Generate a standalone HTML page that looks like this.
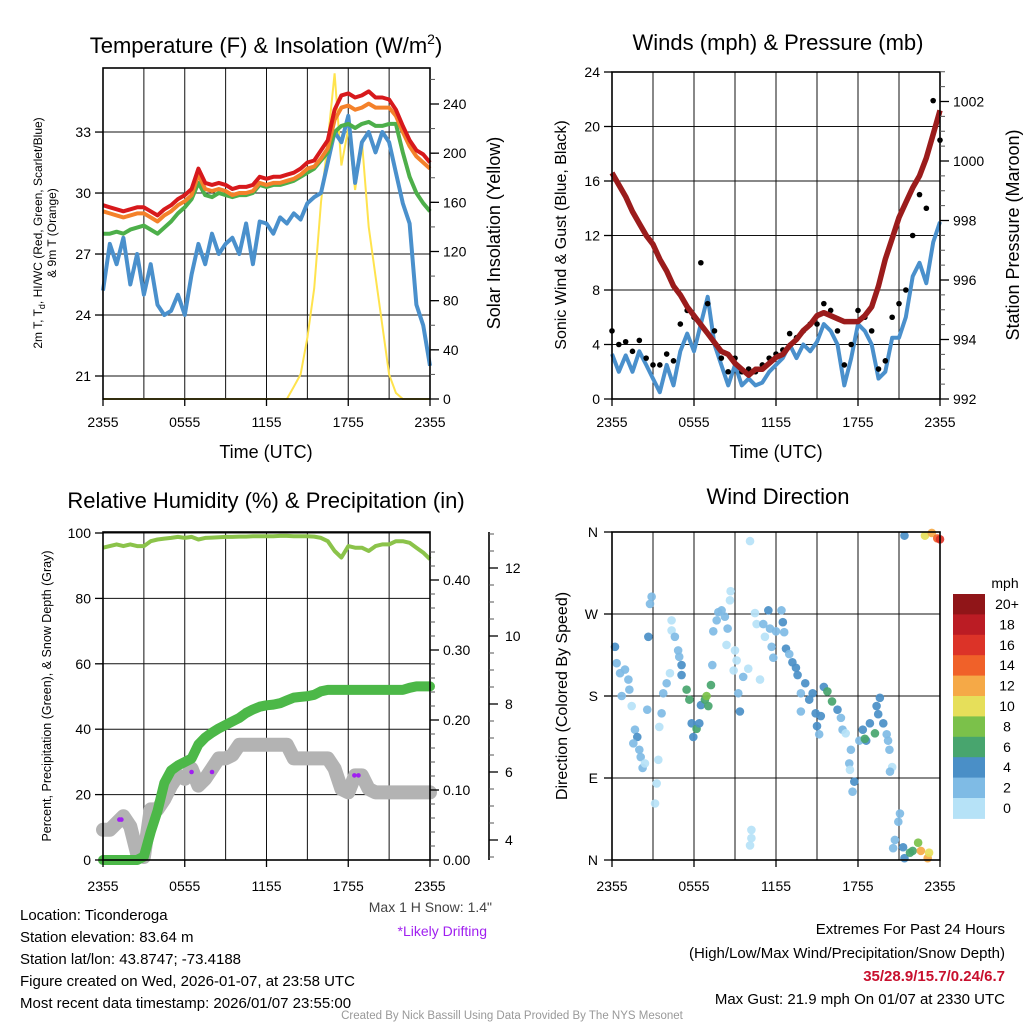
<!DOCTYPE html>
<html><head><meta charset="utf-8"><title>Ticonderoga Mesonet Meteogram</title>
<style>
html,body{margin:0;padding:0;background:#fff;}
body{width:1024px;height:1024px;overflow:hidden;font-family:"Liberation Sans",Arial,sans-serif;}
svg text{font-family:"Liberation Sans",Arial,sans-serif;}
</style></head>
<body>
<svg id="chart" xmlns="http://www.w3.org/2000/svg" width="1024" height="1024" viewBox="0 0 1024 1024">
<rect width="1024" height="1024" fill="#fff"/>
<g id="g1"></g>
<g id="g2"></g>
<g id="g3"></g>
<g id="g4"></g>

<text x="266" y="53" font-size="22" text-anchor="middle">Temperature (F) &amp; Insolation (W/m<tspan dy="-9" font-size="14">2</tspan><tspan dy="9">)</tspan></text>
<text x="778" y="50" font-size="22" text-anchor="middle">Winds (mph) &amp; Pressure (mb)</text>
<text x="266" y="508" font-size="22" text-anchor="middle">Relative Humidity (%) &amp; Precipitation (in)</text>
<text x="778" y="504" font-size="22" text-anchor="middle">Wind Direction</text>

<text x="266" y="458" font-size="18" text-anchor="middle">Time (UTC)</text>
<text x="776" y="458" font-size="18" text-anchor="middle">Time (UTC)</text>

<text transform="translate(42,233) rotate(-90)" font-size="12" text-anchor="middle">2m T, T<tspan dy="3" font-size="9">d</tspan><tspan dy="-3">, HI/WC (Red, Green, Scarlet/Blue)</tspan></text>
<text transform="translate(56,233) rotate(-90)" font-size="12" text-anchor="middle">&amp; 9m T (Orange)</text>
<text transform="translate(500,233) rotate(-90)" font-size="18" text-anchor="middle">Solar Insolation (Yellow)</text>
<text transform="translate(566,235) rotate(-90)" font-size="16" text-anchor="middle">Sonic Wind &amp; Gust (Blue, Black)</text>
<text transform="translate(1019,235) rotate(-90)" font-size="18" text-anchor="middle">Station Pressure (Maroon)</text>
<text transform="translate(51,696) rotate(-90)" font-size="12.5" text-anchor="middle">Percent, Precipitation (Green), &amp; Snow Depth (Gray)</text>
<text transform="translate(567,696) rotate(-90)" font-size="16" text-anchor="middle">Direction (Colored By Speed)</text>

<text x="1005" y="588" font-size="14" text-anchor="middle">mph</text>

<text x="492" y="912" font-size="14" fill="#444" text-anchor="end">Max 1 H Snow: 1.4"</text>
<text x="487" y="936" font-size="14" fill="#a020f0" text-anchor="end">*Likely Drifting</text>

<g font-size="15">
<text x="20" y="920">Location: Ticonderoga</text>
<text x="20" y="942">Station elevation: 83.64 m</text>
<text x="20" y="964">Station lat/lon: 43.8747; -73.4188</text>
<text x="20" y="986">Figure created on Wed, 2026-01-07, at 23:58 UTC</text>
<text x="20" y="1008">Most recent data timestamp: 2026/01/07 23:55:00</text>
</g>
<g font-size="15" text-anchor="end">
<text x="1005" y="934">Extremes For Past 24 Hours</text>
<text x="1005" y="958">(High/Low/Max Wind/Precipitation/Snow Depth)</text>
<text x="1005" y="981" font-weight="bold" fill="#c8102e">35/28.9/15.7/0.24/6.7</text>
<text x="1005" y="1004">Max Gust: 21.9 mph On 01/07 at 2330 UTC</text>
</g>
<text x="512" y="1019" font-size="11.5" fill="#999" text-anchor="middle">Created By Nick Bassill Using Data Provided By The NYS Mesonet</text>
</svg>
<script>
// ---- data (half-hourly, 0..24 h from 2355 UTC) ----
const timeTicks = ["2355","0555","1155","1755","2355"];
const tempRed = [29.4,29.3,29.2,29.1,29.2,29.3,29.3,29.1,28.9,29.2,29.4,29.7,29.9,30.2,31.2,30.5,30.4,30.5,30.4,30.2,30.3,30.3,30.4,30.8,30.7,30.8,30.8,30.9,31.0,31.2,31.5,31.6,32.1,32.6,34.1,34.8,34.9,34.7,34.8,35.0,34.7,34.7,34.6,34.1,33.3,32.6,32.1,31.9,31.5];
const tempOrange = [29.1,29.0,28.9,28.8,28.9,29.0,29.0,28.8,28.6,28.9,29.1,29.4,29.6,29.9,30.9,30.2,30.1,30.2,30.1,29.9,30.0,30.0,30.1,30.5,30.4,30.5,30.5,30.6,30.7,30.9,31.2,31.3,31.7,32.2,33.6,34.2,34.3,34.1,34.2,34.4,34.2,34.2,34.2,33.8,33.0,32.3,31.8,31.5,31.2];
const tempGreen = [28.0,28.0,28.1,28.0,28.2,28.3,28.4,28.2,28.0,28.3,28.6,29.0,29.3,29.7,30.5,29.9,29.8,30.0,29.9,29.8,29.9,29.9,30.0,30.4,30.3,30.4,30.4,30.5,30.6,30.8,31.0,31.2,31.6,32.0,33.0,33.3,33.4,33.2,33.4,33.5,33.3,33.3,33.4,33.4,32.0,30.8,30.0,29.5,29.1];
const tempBlue = [25.2,27.5,26.5,27.8,25.5,27.0,25.0,26.5,24.5,24.0,24.2,25.0,24.0,26.0,27.5,26.5,28.0,27.0,27.5,27.8,27.0,28.5,26.5,28.6,28.5,28.0,28.8,28.5,29.0,28.7,29.5,29.8,30.0,31.5,33.0,32.5,33.8,30.5,32.5,33.0,32.0,33.0,32.5,31.0,29.5,28.5,24.5,23.5,21.5];
const insolation = [0,0,0,0,0,0,0,0,0,0,0,0,0,0,0,0,0,0,0,0,0,0,0,0,0,0,0,0,10,20,50,90,160,210,265,190,220,170,210,140,100,60,20,5,0,0,0,0,0];
const tempTicks = [21,24,27,30,33];
const insolTicks = [0,40,80,120,160,200,240];

const windSpeed = [3.3,2.0,3.2,2.0,3.5,2.5,1.5,0.5,2.5,1.0,3.5,4.8,3.5,5.5,7.5,4.0,2.5,1.0,2.5,1.0,1.5,1.0,1.2,2.0,2.5,3.0,4.0,3.0,4.0,3.5,4.2,5.5,5.0,4.0,1.0,3.0,5.5,5.0,4.0,1.5,2.0,4.5,4.5,6.0,9.0,10.0,8.5,11.5,13.0];
const windGust = [5,4,4.2,3.5,4.3,3.0,2.5,2.5,3.3,2.8,5.5,6.5,6,10,7,5,3,2,3,2,2.2,2,2.5,3,3.3,3.6,4.8,4.5,5.0,5.5,5.5,7,6.5,5,2.5,4,6.5,6,5,2.2,2.8,6,7,8,12,15,14,21.9,19];
const pressure = [999.6,999.2,998.8,998.3,997.9,997.5,997.2,996.7,996.3,995.8,995.5,995.1,994.8,994.5,994.2,993.9,993.6,993.5,993.2,993.0,992.8,993.0,993.0,993.2,993.4,993.5,993.8,994.0,994.3,994.5,994.8,994.9,994.8,994.7,994.6,994.6,994.6,994.8,995.1,995.8,996.7,997.4,998.1,998.6,999.1,999.5,1000.1,1000.9,1001.7];
const windTicks = [0,4,8,12,16,20,24];
const pressTicks = [992,994,996,998,1000,1002];

const rh = [95.5,96,96.5,96,96.5,96,96,97.5,98,98.3,98.5,98.8,98.5,98.8,98,98.5,98.6,98.7,98.8,98.8,98.9,98.9,99,99,99,99,99.1,99.1,99,99,99,98.9,98.5,97.5,94.5,92.5,96,95.5,95.5,94.5,96,96.5,96.5,97.5,97.5,97,95.5,94,92];
const precip = [0,0,0,0,0,0,0.005,0.04,0.07,0.11,0.128,0.135,0.14,0.145,0.165,0.175,0.182,0.188,0.193,0.198,0.203,0.21,0.215,0.219,0.221,0.222,0.224,0.228,0.232,0.233,0.234,0.236,0.241,0.243,0.243,0.243,0.243,0.243,0.243,0.243,0.243,0.243,0.243,0.243,0.243,0.246,0.248,0.248,0.248];
const snowDepth = [4.3,4.3,4.5,4.7,4.4,3.6,3.5,4.9,4.9,5.2,5.6,5.9,5.8,6.1,5.6,5.8,6.1,6.4,6.4,6.5,6.8,6.8,6.8,6.8,6.8,6.8,6.8,6.8,6.4,6.4,6.4,6.4,6.4,6.4,6.1,5.5,5.4,5.9,5.9,5.5,5.4,5.4,5.4,5.4,5.4,5.4,5.4,5.4,5.4];
const driftHours = [1.2,1.35,6.5,8.0,18.45,18.75];
const driftSnow = [4.6,4.6,6.0,6.0,5.9,5.9];
const rhTicks = [0,20,40,60,80,100];
const precipTicks = ["0.00","0.10","0.20","0.30","0.40"];
const snowTicks = [4,6,8,10,12];

const dirHours = [0.22,0.34,0.59,0.95,1.2,1.27,0.71,1.44,1.68,1.85,1.56,2.0,2.1,2.24,2.41,2.58,2.66,2.78,2.9,3.27,3.15,3.39,3.46,3.63,3.75,4.0,4.24,4.36,4.36,4.6,4.84,4.92,5.09,5.09,5.46,5.66,5.83,5.95,6.19,6.39,6.51,6.8,6.92,7.05,7.24,7.34,7.41,7.66,7.78,8.02,8.26,8.46,8.38,8.63,8.68,9.0,9.12,8.9,9.24,9.36,9.6,9.97,10.1,10.2,10.2,10.1,10.46,10.58,10.83,11.07,11.19,11.44,11.56,11.68,11.8,12.0,12.4,12.5,12.6,12.73,12.97,13.2,13.46,13.58,13.82,13.82,14.14,14.43,14.68,14.9,15.0,15.16,15.28,15.5,15.76,16.1,16.5,16.75,16.87,17.1,17.48,17.36,17.41,17.73,17.6,18.1,18.35,18.6,18.5,18.87,19.24,19.36,19.48,19.6,19.85,20.1,20.2,20.3,20.5,20.34,21.07,20.95,20.7,20.57,21.3,21.4,21.8,22.0,22.4,22.6,23.1,23.2,21.4,22.9,23.4,23.8,24.0];
const dirDeg = [234,216,205,209,198,187,180,169,143,135,128,121,113,101,106,165,245,281,289,84,62,110,146,161,183,194,205,263,252,245,230,223,214,203,187,176,150,135,144,150,170,176,180,169,192,214,251,263,272,274,267,254,236,285,295,230,219,208,183,163,201,210,350,33,24,16,271,259,198,259,245,274,254,234,222,251,274,261,250,232,226,217,211,203,183,163,194,176,183,161,147,138,158,190,185,174,165,156,143,139,121,106,99,86,75,131,143,131,133,150,139,169,160,178,150,138,131,121,102,97,51,42,22,13,14,2,8,10,19,10,2,8,356,356,359,353,352];
const dirSpeed = [5,3,3,3,3,3,3,1,3,5,3,3,3,3,1,3,5,3,3,1,1,1,1,3,3,3,1,1,1,3,3,3,5,5,7,7,5,5,7,5,5,7,9,7,7,3,3,3,3,3,3,3,1,1,1,1,1,1,3,5,3,1,1,1,1,1,1,1,1,3,1,5,3,3,3,3,3,5,3,5,3,5,5,5,3,3,5,5,5,5,5,3,5,5,7,7,5,3,3,1,3,3,1,5,3,3,5,5,7,5,7,5,5,5,5,3,3,3,1,3,3,3,3,3,5,5,7,7,9,13,13,11,5,11,13,15,17];
const speedLabels = ["20+","18","16","14","12","10","8","6","4","2","0"];
const speedColors = ["#901518","#bb1c24","#dc3328","#f06129","#f5a947","#e6df5a","#7bc14a","#48a56e","#4a8fc7","#7fbbe5","#b6e2f7"];

// ---- helpers ----
const NS = "http://www.w3.org/2000/svg";
function mk(parent, tag, attrs){ const e=document.createElementNS(NS,tag); for(const k in attrs) e.setAttribute(k,attrs[k]); parent.appendChild(e); return e; }
function xScale(x0,x1){ return h => x0 + h/24*(x1-x0); }
function idxHour(i){ return i*0.5; }
function linePath(vals, xs, ys){ let d=""; vals.forEach((v,i)=>{ d += (i?"L":"M") + xs(idxHour(i)).toFixed(1) + "," + ys(v).toFixed(1); }); return d; }
function grid(g, x0,x1,y0,y1, yList){
  for(let h=3; h<24; h+=3){ const x=x0+h/24*(x1-x0);
    const l=mk(g,"line",{x1:x,x2:x,y1:y0,y2:y1,stroke:"#111","stroke-width":1});
    
     }
  yList.forEach(y=>{ const l=mk(g,"line",{x1:x0,x2:x1,y1:y,y2:y,stroke:"#111","stroke-width":1});
    
     });
}
function frame(g,x0,x1,y0,y1){ const r=mk(g,"rect",{x:x0,y:y0,width:x1-x0,height:y1-y0,fill:"none",stroke:"#000","stroke-width":1.6});
  
   }
function xTicks(g,x0,x1,y1,ly){
  timeTicks.forEach((t,i)=>{ const x=x0+i*6/24*(x1-x0);
    const tk=mk(g,"line",{x1:x,x2:x,y1:y1,y2:y1+7,stroke:"#000","stroke-width":1.3});
    
    
    const tx=mk(g,"text",{x:x,y:ly,"font-size":14,"text-anchor":"middle"}); tx.textContent=t;
    
     });
}
function leftTicks(g,x0,vals,ys,fmt){
  vals.forEach(v=>{ const y=ys(v);
    const tk=mk(g,"line",{x1:x0-8,x2:x0,y1:y,y2:y,stroke:"#000","stroke-width":1.3});
    
    
    const tx=mk(g,"text",{x:x0-12,y:y+5,"font-size":14,"text-anchor":"end"}); tx.textContent=fmt?fmt(v):v;
    
     });
}
function rightTicks(g,x1,vals,ys,fmt,minorVals){
  (minorVals||[]).forEach(v=>{ const y=ys(v);
    const tk=mk(g,"line",{x1:x1,x2:x1+5,y1:y,y2:y,stroke:"#555","stroke-width":1});
    
     });
  vals.forEach(v=>{ const y=ys(v);
    const tk=mk(g,"line",{x1:x1,x2:x1+9,y1:y,y2:y,stroke:"#000","stroke-width":1.3});
    
    
    const tx=mk(g,"text",{x:x1+13,y:y+5,"font-size":14}); tx.textContent=fmt?fmt(v):v;
    
     });
}
function range(a,b,s){ const r=[]; for(let v=a; v<=b+1e-9; v+=s) r.push(+v.toFixed(4)); return r; }

// ---- Panel 1 ----
(function(){
  const g=document.getElementById("g1");
  const x0=103,x1=430,y0=68,y1=399;
  const xs=xScale(x0,x1);
  const yT=t=>376-(t-21)*20.33;
  const yI=v=>399-v*295/240;
  grid(g,x0,x1,y0,y1,tempTicks.map(yT));
  const pI=mk(g,"path",{d:linePath(insolation,xs,yI),fill:"none",stroke:"#ffe34d","stroke-width":2});
  
  
  const series=[[tempBlue,"#4a90cc","temp-blue-line"],[tempGreen,"#4daf4a","temp-green-line"],[tempOrange,"#f4812a","temp-orange-line"],[tempRed,"#d7191c","temp-red-line"]];
  series.forEach(s=>{ const p=mk(g,"path",{d:linePath(s[0],xs,yT),fill:"none",stroke:s[1],"stroke-width":4,"stroke-linejoin":"round"});
    
     });
  frame(g,x0,x1,y0,y1);
  leftTicks(g,x0,tempTicks,yT);
  rightTicks(g,x1,insolTicks,yI,null,range(20,260,20));
  xTicks(g,x0,x1,y1,427);
})();

// ---- Panel 2 ----
(function(){
  const g=document.getElementById("g2");
  const x0=612,x1=940,y0=72,y1=399;
  const xs=xScale(x0,x1);
  const yW=w=>399-w*13.625;
  const yP=p=>399-(p-992)*29.75;
  grid(g,x0,x1,y0,y1,windTicks.map(yW));
  const pw=mk(g,"path",{d:linePath(windSpeed,xs,yW),fill:"none",stroke:"#4a90cc","stroke-width":4,"stroke-linejoin":"round"});
  
  
  windGust.forEach((v,i)=>{ const c=mk(g,"circle",{cx:xs(idxHour(i)),cy:yW(v),r:2.8,fill:"#000"});
    
     });
  const pp=mk(g,"path",{d:linePath(pressure,xs,yP),fill:"none",stroke:"#9b1c1c","stroke-width":5.5,"stroke-linejoin":"round"});
  
  
  frame(g,x0,x1,y0,y1);
  leftTicks(g,x0,windTicks,yW);
  rightTicks(g,x1,pressTicks,yP,null,range(992.5,1003,0.5));
  xTicks(g,x0,x1,y1,427);
})();

// ---- Panel 3 ----
(function(){
  const g=document.getElementById("g3");
  const x0=103,x1=430,y0=532,y1=860;
  const xs=xScale(x0,x1);
  const yR=r=>860-r*3.27;
  const yPr=p=>860-p*700;
  const yS=s=>772-(s-6)*34;
  grid(g,x0,x1,y0,y1,rhTicks.map(yR));
  const ps=mk(g,"path",{d:linePath(snowDepth,xs,yS),fill:"none",stroke:"#b3b3b3","stroke-width":14,"stroke-linejoin":"round","stroke-linecap":"round"});
  
  
  driftHours.forEach((h,i)=>{ const c=mk(g,"circle",{cx:xs(h),cy:yS(driftSnow[i]),r:2.3,fill:"#a020f0"});
    
     });
  const pp=mk(g,"path",{d:linePath(precip,xs,yPr),fill:"none",stroke:"#4cb848","stroke-width":10,"stroke-linejoin":"round","stroke-linecap":"round"});
  
  
  const pr=mk(g,"path",{d:linePath(rh,xs,yR),fill:"none",stroke:"#8bc34a","stroke-width":4,"stroke-linejoin":"round"});
  
  
  frame(g,x0,x1,y0,y1);
  leftTicks(g,x0,rhTicks,yR);
  rightTicks(g,x1,precipTicks.map(Number),yPr,v=>v.toFixed(2),range(0.02,0.44,0.02));
  // snow axis
  const ax=489;
  const al=mk(g,"line",{x1:ax,x2:ax,y1:y0,y2:y1,stroke:"#000","stroke-width":1.6});
  
  
  range(3.5,13,0.5).forEach(v=>{ const y=yS(v); if(y<y0||y>y1) return;
    const t=mk(g,"line",{x1:ax,x2:ax+5,y1:y,y2:y,stroke:"#555","stroke-width":1});
    
     });
  snowTicks.forEach(v=>{ const y=yS(v);
    const t=mk(g,"line",{x1:ax,x2:ax+9,y1:y,y2:y,stroke:"#000","stroke-width":1.3});
    
    
    const tx=mk(g,"text",{x:ax+16,y:y+5,"font-size":14}); tx.textContent=v;
    
     });
  xTicks(g,x0,x1,y1,891);
})();

// ---- Panel 4 ----
(function(){
  const g=document.getElementById("g4");
  const x0=612,x1=940,y0=532,y1=860;
  const xs=xScale(x0,x1);
  const yD=d=>860-d*328/360;
  const dirTicks=[0,90,180,270,360], dirLabels=["N","E","S","W","N"];
  grid(g,x0,x1,y0,y1,dirTicks.map(yD));
  function colorFor(s){ let b=Math.floor(s/2); if(b>10) b=10; return speedColors[10-b]; }
  dirHours.forEach((h,i)=>{ const c=mk(g,"circle",{cx:xs(h),cy:yD(dirDeg[i]),r:4.3,fill:colorFor(dirSpeed[i]),"fill-opacity":0.92});
    
     });
  frame(g,x0,x1,y0,y1);
  dirTicks.forEach((d,i)=>{ const y=yD(d);
    const t=mk(g,"line",{x1:x0-8,x2:x0,y1:y,y2:y,stroke:"#000","stroke-width":1.3});
    
    
    const tx=mk(g,"text",{x:x0-14,y:y+5,"font-size":14,"text-anchor":"end"}); tx.textContent=dirLabels[i];
    
     });
  xTicks(g,x0,x1,y1,891);
  // colorbar
  const bx=953,by=594,bh=20.4,bw=32;
  speedColors.forEach((c,i)=>{ const r=mk(g,"rect",{x:bx,y:by+i*bh,width:bw,height:bh+0.5,fill:c});
    
    
    const tx=mk(g,"text",{x:1007,y:by+i*bh+15,"font-size":14,"text-anchor":"middle"}); tx.textContent=speedLabels[i];
    
     });
})();
</script>
</body></html>
